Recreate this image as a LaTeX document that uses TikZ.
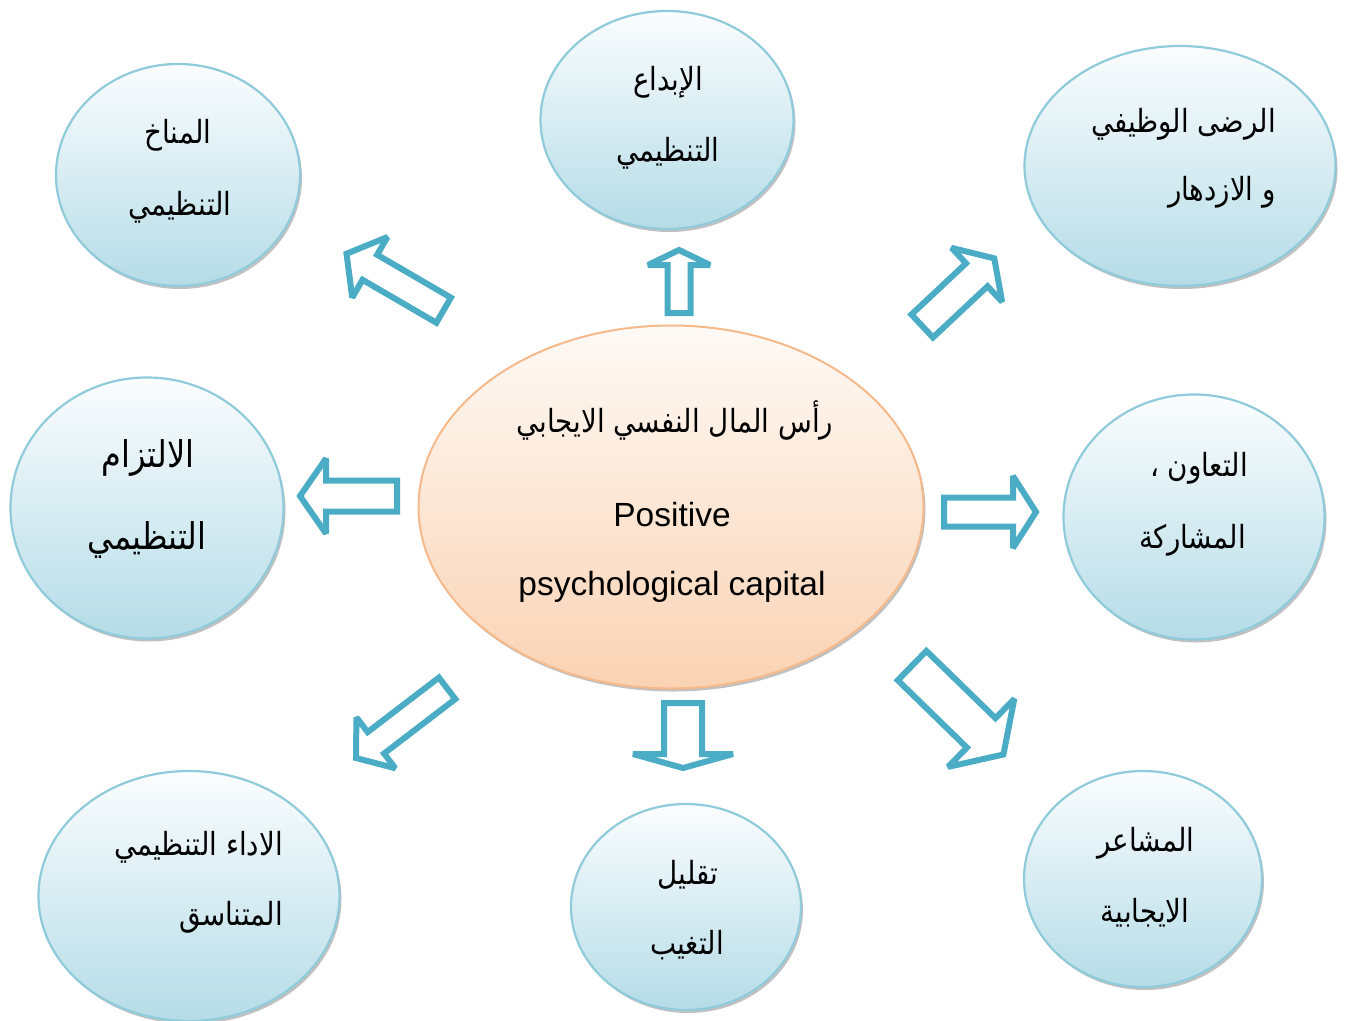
\documentclass[tikz,border=0pt]{standalone}
\usepackage{fontspec}
\setmainfont{Liberation Sans}
\newfontfamily\arabicfont[Script=Arabic]{DejaVu Sans}
\TeXXeTstate=1
\usetikzlibrary{shapes.geometric,shadows,calc}
\definecolor{arrowblue}{HTML}{4BACC6}
\definecolor{bubbleedge}{HTML}{8FCBDA}
\definecolor{bubbletop}{HTML}{FBFDFE}
\definecolor{bubblebot}{HTML}{B5DCE7}
\definecolor{coreedge}{HTML}{F6B98A}
\definecolor{coretop}{HTML}{FEFAF6}
\definecolor{corebot}{HTML}{FAD2B3}
\newcommand\artext[1]{\scalebox{1}[1.15]{\beginR #1\endR}}
\tikzset{
  bubble/.style={ellipse, draw=bubbleedge, line width=2.2pt, top color=bubbletop,
    bottom color=bubblebot, inner sep=0pt,
    drop shadow={shadow xshift=2pt, shadow yshift=-3pt, opacity=0.4, fill=black!60}},
  core/.style={ellipse, draw=coreedge, line width=2pt, top color=coretop,
    bottom color=corebot, inner sep=0pt,
    drop shadow={shadow xshift=2pt, shadow yshift=-3pt, opacity=0.4, fill=black!60}},
  barrow/.style={draw=arrowblue, fill=white, line width=6pt, line join=miter, miter limit=2},
  ar/.style={font=\arabicfont\fontsize{27.7}{32}\selectfont, inner sep=0pt, text=black},
  arbig/.style={font=\arabicfont\fontsize{32}{36}\selectfont, inner sep=0pt, text=black},
  en/.style={font=\fontsize{33.5}{40}\selectfont, inner sep=0pt, text=black},
}
% #1 tail, #2 tip, #3 shaft half-width, #4 head half-width, #5 head length, #6 name of head base
\newcommand\blkarrow[6]{%
  \coordinate (#6) at ($(#2)!#5pt!(#1)$);
  \draw[barrow] ($(#1)!#3pt!90:(#2)$) -- ($(#6)!#3pt!-90:(#1)$) -- ($(#6)!#4pt!-90:(#1)$)
    -- (#2) -- ($(#6)!#4pt!90:(#1)$) -- ($(#6)!#3pt!90:(#1)$) -- ($(#1)!#3pt!-90:(#2)$) -- cycle;}
\begin{document}
\begin{tikzpicture}[x=1pt,y=-1pt]
\fill[white] (0,0) rectangle (1346,1020);
\useasboundingbox (0,0) rectangle (1346,1020);

% bubbles
\node[bubble, minimum width=244pt, minimum height=222pt] (climate) at (178,175) {};
\node[bubble, minimum width=253pt, minimum height=218pt] (creat) at (667,120) {};
\node[bubble, minimum width=311pt, minimum height=240pt] (satis) at (1180,166) {};
\node[bubble, minimum width=273pt, minimum height=261pt] (commit) at (147,508) {};
\node[core,   minimum width=505pt, minimum height=363pt] (core) at (671,507) {};
\node[bubble, minimum width=261pt, minimum height=245pt] (coop) at (1194,517) {};
\node[bubble, minimum width=301pt, minimum height=250pt] (perf) at (189,896) {};
\node[bubble, minimum width=230pt, minimum height=206pt] (absent) at (686,907) {};
\node[bubble, minimum width=238pt, minimum height=216pt] (emot) at (1143,879) {};

% texts
\node[ar] (climateA) at (178,135) {\artext{المناخ}};
\node[ar] (climateB) at (180,207) {\artext{التنظيمي}};
\node[ar] (creatA) at (668,82) {\artext{الإبداع}};
\node[ar] (creatB) at (668,153) {\artext{التنظيمي}};
\node[ar, anchor=east] (satisA) at (1276,124) {\artext{الرضى الوظيفي}};
\node[ar, anchor=east] (satisB) at (1276,192) {\artext{و الازدهار}};
\node[arbig] (commitA) at (148,458) {\artext{الالتزام}};
\node[arbig] (commitB) at (147,540) {\artext{التنظيمي}};
\node[ar] (coreA) at (675,420) {\artext{رأس المال النفسي الايجابي}};
\node[en] (coreB) at (672,515) {Positive};
\node[en] (coreC) at (672,587) {psychological capital};
\node[ar, anchor=east] (coopA) at (1248,468) {\artext{التعاون ،}};
\node[ar, anchor=east] (coopB) at (1246,540) {\artext{المشاركة}};
\node[ar, anchor=east] (perfA) at (283,847) {\artext{الاداء التنظيمي}};
\node[ar, anchor=east] (perfB) at (283,917) {\artext{المتناسق}};
\node[ar] (absentA) at (688,875) {\artext{تقليل}};
\node[ar] (absentB) at (687,945) {\artext{التغيب}};
\node[ar] (emotA) at (1146,843) {\artext{المشاعر}};
\node[ar] (emotB) at (1145,913) {\artext{الايجابية}};

% arrows
\coordinate (a1s) at (443.6,310.2); \coordinate (a1t) at (346.5,253.7);
\coordinate (a2s) at (679,313);     \coordinate (a2t) at (679,250);
\coordinate (a3s) at (922.2,326);   \coordinate (a3t) at (994.3,258.4);
\coordinate (a4s) at (397,496);     \coordinate (a4t) at (300,496);
\coordinate (a5s) at (944,512);     \coordinate (a5t) at (1036,512);
\coordinate (a6s) at (447.1,688.3); \coordinate (a6t) at (356,758);
\coordinate (a7s) at (683,703);     \coordinate (a7t) at (683,768);
\coordinate (a8s) at (912.1,665.6); \coordinate (a8t) at (1003.4,754.5);
\blkarrow{a1s}{a1t}{14.5}{35}{27}{a1h}
\blkarrow{a2s}{a2t}{11.5}{31}{15}{a2h}
\blkarrow{a3s}{a3t}{15.75}{37}{24}{a3h}
\blkarrow{a4s}{a4t}{15.5}{37.5}{26}{a4h}
\blkarrow{a5s}{a5t}{14.5}{36}{23}{a5h}
\blkarrow{a6s}{a6t}{13.5}{32}{25}{a6h}
\blkarrow{a7s}{a7t}{19}{50}{14}{a7h}
\blkarrow{a8s}{a8t}{20.5}{47.5}{31}{a8h}
\end{tikzpicture}
\end{document}
